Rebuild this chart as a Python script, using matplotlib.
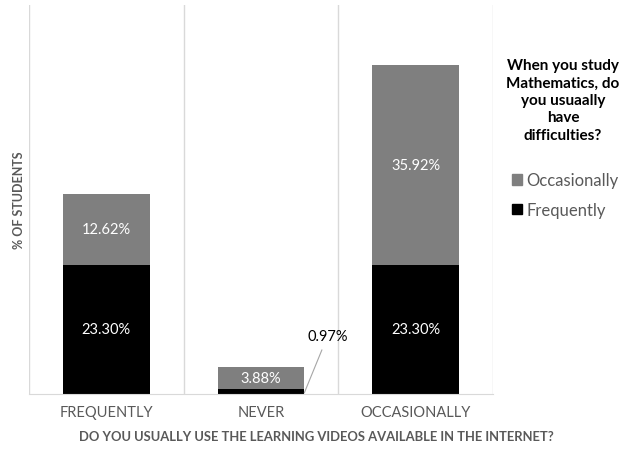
import matplotlib
matplotlib.use("Agg")
import matplotlib.pyplot as plt
import numpy as np
from matplotlib.patches import Patch

plt.rcParams["font.family"] = ["Lato", "DejaVu Sans"]

# Survey answers (% of students)
categories = ["FREQUENTLY", "NEVER", "OCCASIONALLY"]
frequently = [23.30, 0.97, 23.30]
occasionally = [12.62, 3.88, 35.92]
series_names = ["Occasionally", "Frequently"]
legend_title = "When you study\nMathematics, do\nyou usuaally\nhave\ndifficulties?"

BLACK = "#000000"
GRAY = "#7f7f7f"
GRID = "#d9d9d9"
TEXT = "#595959"

fig = plt.figure(figsize=(6.29, 4.56), dpi=100)
ax = fig.add_axes([29 / 629, 1 - 395 / 456, (493 - 29) / 629, (395 - 6) / 456])

x = np.arange(len(categories))
width = 0.56
freq = np.array(frequently)
occ = np.array(occasionally)

ax.bar(x, freq, width, color=BLACK, zorder=2)
ax.bar(x, occ, width, bottom=freq, color=GRAY, zorder=2)

# labels inside the segments; the thin NEVER segment gets a leader line
for i in range(len(categories)):
    if freq[i] > 3:
        ax.text(x[i], freq[i] / 2, f"{freq[i]:.2f}%", ha="center", va="center",
                color="white", fontsize=10.5)
    else:
        ax.annotate(f"{freq[i]:.2f}%", xy=(x[i] + width / 2, 0.2),
                    xytext=(x[i] + 0.43, 10.4), ha="center", va="center",
                    fontsize=10.5, color=BLACK,
                    arrowprops=dict(arrowstyle="-", color="#a6a6a6", lw=0.8,
                                    shrinkA=3, shrinkB=0))
    ax.text(x[i], freq[i] + occ[i] / 2, f"{occ[i]:.2f}%", ha="center",
            va="center", color="white", fontsize=10.5)

ax.set_xlim(-0.5, len(categories) - 0.5)
ax.set_ylim(0, 70)
ax.set_yticks([])
ax.set_xticks(x)
ax.set_xticklabels(categories, fontsize=10.5, color=TEXT)
ax.tick_params(axis="x", length=0, pad=8)

# vertical separators between categories
for b in np.arange(-0.5, len(categories), 1.0):
    ax.axvline(b, color=GRID, lw=1, zorder=1)
for side in ["top", "right", "left"]:
    ax.spines[side].set_visible(False)
ax.spines["bottom"].set_color(GRID)

fig.text(19 / 629, 1 - 200 / 456, "% OF STUDENTS", rotation=90, ha="center",
         va="center", fontsize=9, fontweight="bold", color=TEXT)
fig.text(0.503, 1 - 437 / 456,
         "DO YOU USUALLY USE THE LEARNING VIDEOS AVAILABLE IN THE INTERNET?",
         ha="center", va="center", fontsize=9.4, fontweight="bold", color=TEXT)

# legend: bold centred question on top, series entries below
fig.text(563 / 629, 1 - 101 / 456, legend_title, ha="center", va="center",
         fontsize=11, fontweight="bold", color=BLACK, linespacing=1.3)
handles = [Patch(color=GRAY), Patch(color=BLACK)]
leg = fig.legend(handles, series_names, loc="center left",
                 bbox_to_anchor=(504 / 629, 1 - 196 / 456),
                 frameon=False, fontsize=12,
                 handlelength=0.6, handleheight=0.6, handletextpad=0.25,
                 labelspacing=0.8, labelcolor=TEXT, borderpad=0)

fig.savefig("out.png", dpi=100)
